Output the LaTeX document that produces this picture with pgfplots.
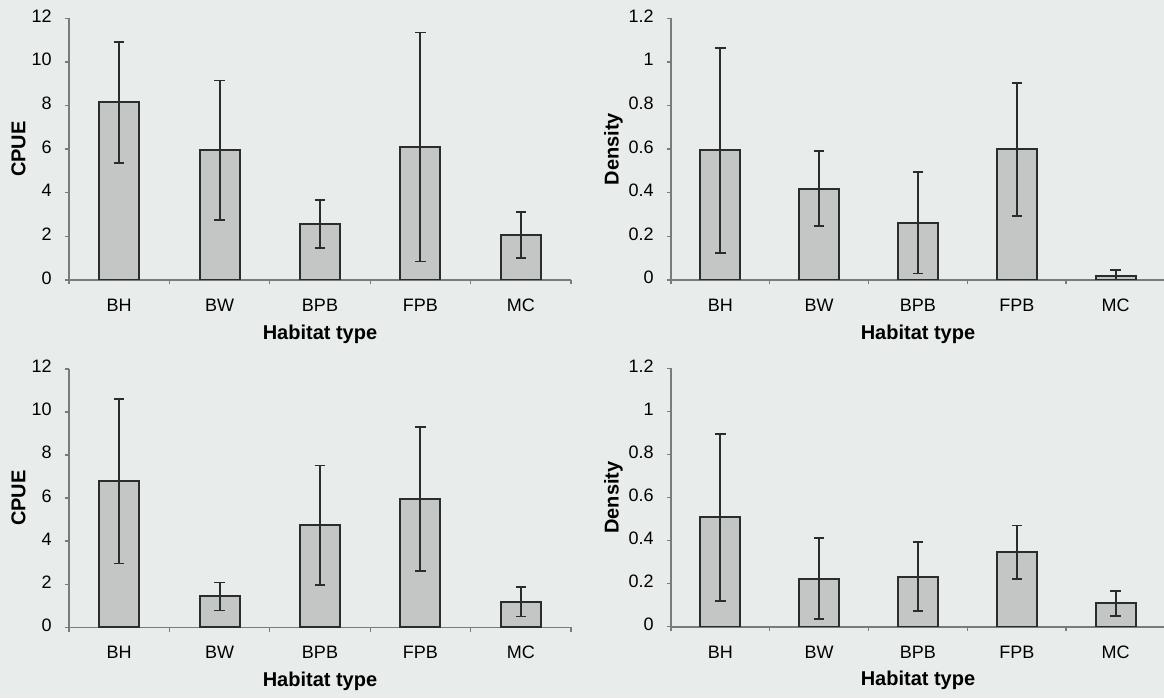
\documentclass[border=0pt]{standalone}
\usepackage{pgfplots}
\pgfplotsset{compat=1.18}
\usepackage{fontspec}
\setmainfont{Liberation Sans}
\definecolor{bg}{RGB}{232,236,234}
\definecolor{barfill}{RGB}{196,198,197}
\definecolor{barline}{RGB}{40,46,42}
\definecolor{axgray}{RGB}{120,124,122}
\pgfplotsset{
  hab/.style={
    scale only axis,
    anchor=south west,
    ybar, bar width=20pt,
    xmin=-0.5, xmax=4.5,
    xtick={0,1,2,3,4},
    xticklabels={BH,BW,BPB,FPB,MC},
    typeset ticklabels with strut,
    minor xtick={-0.5,0.5,1.5,2.5,3.5,4.5},
    major x tick style={draw=none},
    minor x tick style={axgray, line width=0.7pt},
    minor tick length=2.2pt,
    major tick length=2.2pt,
    tick align=outside,
    axis x line*=bottom,
    axis y line*=left,
    x axis line style={axgray, line width=0.8pt, -},
    y axis line style={axgray, line width=0.8pt, -},
    y tick style={axgray, line width=0.7pt},
    tick label style={font=\fontsize{9}{10}\selectfont, text=black},
    /pgf/number format/assume math mode=true,
    xticklabel style={yshift=-3pt},
    yticklabel style={xshift=-3pt},
    xlabel={Habitat type},
    xlabel style={at={(axis description cs:0.5,0)}, anchor=center, yshift=-27pt, font=\bfseries\fontsize{10}{12}\selectfont},
    ylabel style={anchor=center, font=\bfseries\fontsize{10}{12}\selectfont},
  },
  barst/.style={fill=barfill, draw=barline, line width=1pt,
    error bars/.cd, y dir=both, y explicit,
    error bar style={barline, line width=0.95pt},
    error mark options={rotate=90, mark size=2.6pt, line width=0.95pt, barline}},
  cpue/.style={hab, width=251pt, ymin=0, ymax=12, ytick={0,2,...,12}, ylabel={CPUE},
    ylabel style={at={(axis description cs:-0.1006,0.5)}}},
  dens/.style={hab, width=247pt, ymin=0, ymax=1.2, ytick={0,0.2,...,1.2}, ylabel={Density},
    ylabel style={at={(axis description cs:-0.1164,0.5)}}},
}
\begin{document}
\begin{tikzpicture}
\fill[bg] (0,0) rectangle (582pt,349pt);
% top left
\begin{axis}[cpue, at={(34.5pt,209pt)}, height=130.85pt]
\addplot[barst] coordinates {
 (0,8.14) +- (0,2.78)
 (1,5.95) +- (0,3.20)
 (2,2.57) +- (0,1.10)
 (3,6.10) +- (0,5.25)
 (4,2.07) +- (0,1.06)
};
\end{axis}
% top right
\begin{axis}[dens, at={(335.5pt,209pt)}, height=130.85pt]
\addplot[barst] coordinates {
 (0,0.595) +- (0,0.470)
 (1,0.419) +- (0,0.173)
 (2,0.262) +- (0,0.232)
 (3,0.600) +- (0,0.305)
 (4,0.020) +- (0,0.025)
};
\end{axis}
% bottom left
\begin{axis}[cpue, at={(34.5pt,35.35pt)}, height=129.25pt]
\addplot[barst] coordinates {
 (0,6.78) +- (0,3.82)
 (1,1.43) +- (0,0.65)
 (2,4.74) +- (0,2.77)
 (3,5.95) +- (0,3.33)
 (4,1.19) +- (0,0.69)
};
\end{axis}
% bottom right
\begin{axis}[dens, at={(335.5pt,35.65pt)}, height=129.2pt]
\addplot[barst] coordinates {
 (0,0.508) +- (0,0.387)
 (1,0.222) +- (0,0.188)
 (2,0.233) +- (0,0.160)
 (3,0.345) +- (0,0.125)
 (4,0.108) +- (0,0.057)
};
\end{axis}
\pgfresetboundingbox
\path[use as bounding box] (0,0) rectangle (582pt,349pt);
\end{tikzpicture}
\end{document}
